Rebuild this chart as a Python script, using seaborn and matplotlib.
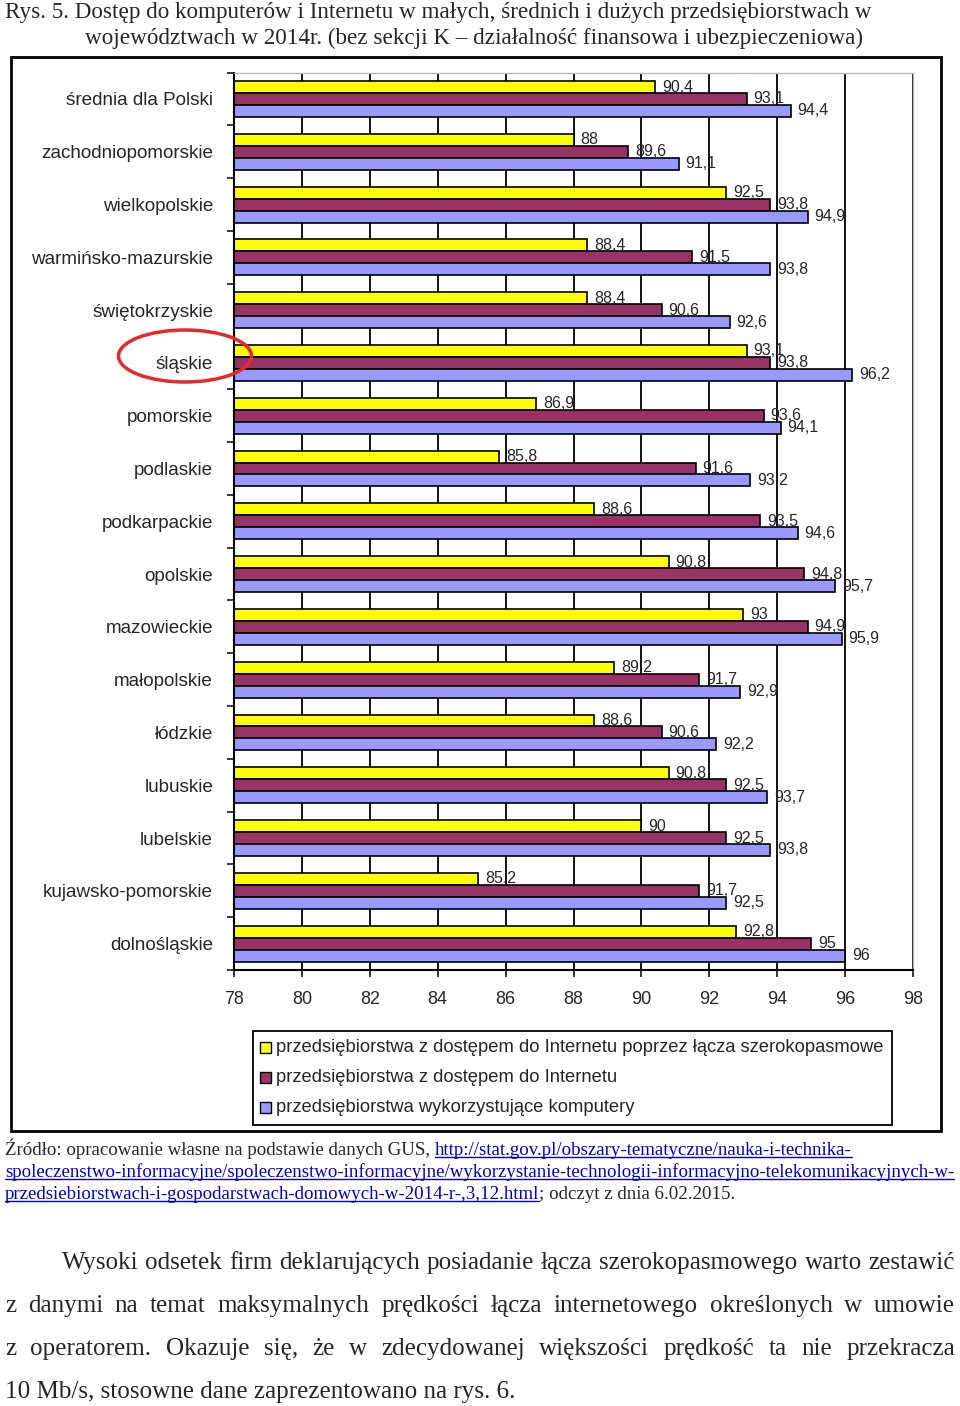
import numpy as np
import pandas as pd
import matplotlib
matplotlib.use("Agg")
import matplotlib.pyplot as plt
import seaborn as sns
from matplotlib.patches import Rectangle, Ellipse
from matplotlib.lines import Line2D

# data (top to bottom)
regions = ["średnia dla Polski", "zachodniopomorskie", "wielkopolskie",
           "warmińsko-mazurskie", "świętokrzyskie", "śląskie", "pomorskie",
           "podlaskie", "podkarpackie", "opolskie", "mazowieckie", "małopolskie",
           "łódzkie", "lubuskie", "lubelskie", "kujawsko-pomorskie", "dolnośląskie"]
broadband = [90.4, 88, 92.5, 88.4, 88.4, 93.1, 86.9, 85.8, 88.6, 90.8, 93, 89.2,
             88.6, 90.8, 90, 85.2, 92.8]
internet = [93.1, 89.6, 93.8, 91.5, 90.6, 93.8, 93.6, 91.6, 93.5, 94.8, 94.9, 91.7,
            90.6, 92.5, 92.5, 91.7, 95]
computers = [94.4, 91.1, 94.9, 93.8, 92.6, 96.2, 94.1, 93.2, 94.6, 95.7, 95.9, 92.9,
             92.2, 93.7, 93.8, 92.5, 96]
series = ["przedsiębiorstwa z dostępem do Internetu poprzez łącza szerokopasmowe",
          "przedsiębiorstwa z dostępem do Internetu",
          "przedsiębiorstwa wykorzystujące komputery"]
colors = ["#FFFF00", "#993366", "#9999FF"]
x_ticks = list(range(78, 100, 2))

title1 = "Rys. 5. Dostęp do komputerów i Internetu w małych, średnich i dużych przedsiębiorstwach w"
title2 = "województwach w 2014r. (bez sekcji K – działalność finansowa i ubezpieczeniowa)"
src_plain1 = "Źródło: opracowanie własne na podstawie danych GUS, "
src_link1 = "http://stat.gov.pl/obszary-tematyczne/nauka-i-technika-"
src_link2 = "spoleczenstwo-informacyjne/spoleczenstwo-informacyjne/wykorzystanie-technologii-informacyjno-telekomunikacyjnych-w-"
src_link3 = "przedsiebiorstwach-i-gospodarstwach-domowych-w-2014-r-,3,12.html"
src_plain3 = "; odczyt z dnia 6.02.2015."
paragraph = ["Wysoki odsetek firm deklarujących posiadanie łącza szerokopasmowego warto zestawić",
             "z danymi na temat maksymalnych prędkości łącza internetowego określonych w umowie",
             "z operatorem. Okazuje się, że w zdecydowanej większości prędkość ta nie przekracza",
             "10 Mb/s, stosowne dane zaprezentowano na rys. 6."]

df = pd.DataFrame({"region": regions * 3,
                   "value": broadband + internet + computers,
                   "series": [series[0]] * 17 + [series[1]] * 17 + [series[2]] * 17})

sns.set_style("white")
plt.rcParams["font.family"] = ["Liberation Sans", "DejaVu Sans"]

W, H = 960, 1406
fig = plt.figure(figsize=(W / 100, H / 100), dpi=100)


def fx(x):
    return x / W


def fy(y):
    return 1 - y / H


ax = fig.add_axes([fx(234), fy(970), fx(913) - fx(234), fy(72.6) - fy(970)])
sns.barplot(data=df, y="region", x="value", hue="series", orient="h",
            palette=colors, edgecolor="black", linewidth=1.2, width=0.68,
            saturation=1, legend=False, ax=ax)
ax.set_xlim(78, 98)
ax.set_xticks(x_ticks)
ax.set_xlabel("")
ax.set_ylabel("")
ax.grid(axis="x", color="black", lw=1.3)
ax.set_axisbelow(True)
for side in ["top", "right"]:
    ax.spines[side].set_color("#bbbbbb")
    ax.spines[side].set_linewidth(1)
for side in ["left", "bottom"]:
    ax.spines[side].set_color("black")
    ax.spines[side].set_linewidth(1.5)
ax.tick_params(axis="x", length=5, width=1.3, pad=10, labelsize=13, direction="out",
               bottom=True)
ax.tick_params(axis="y", which="major", length=0, pad=15, labelsize=13.6)
ax.set_yticks(np.arange(-0.5, 17, 1), minor=True)
ax.tick_params(axis="y", which="minor", length=5, width=1.3, left=True, direction="out")

for cont in ax.containers:
    labels = [f"{b.get_width():g}".replace(".", ",") for b in cont]
    ax.bar_label(cont, labels=labels, padding=5, fontsize=11.5)

# chart frame and legend box
fig.add_artist(Rectangle((fx(11), fy(1131)), fx(941) - fx(11), fy(57) - fy(1131),
                         transform=fig.transFigure, fill=False, ec="black", lw=2))
fig.add_artist(Rectangle((fx(253), fy(1125)), fx(892) - fx(253), fy(1031) - fy(1125),
                         transform=fig.transFigure, fill=False, ec="black", lw=1.3))
for i, (s, c) in enumerate(zip(series, colors)):
    yc = 1047 + 30 * i
    fig.add_artist(Rectangle((fx(260), fy(yc + 5.5)), fx(11), 11 / H,
                             transform=fig.transFigure, fc=c, ec="black", lw=1))
    fig.text(fx(276), fy(yc), s, fontsize=13.2, va="center", ha="left")

# red ellipse around śląskie
fig.add_artist(Ellipse((fx(185), fy(356)), fx(133), 52 / H, transform=fig.transFigure,
                       fill=False, ec="#E32A2A", lw=2.5))

renderer = fig.canvas.get_renderer()
serif = ["Liberation Serif", "DejaVu Serif"]


def width_of(t):
    return t.get_window_extent(renderer).width


def fit(s, x, y, target, size=12, **kw):
    t = fig.text(fx(x), fy(y), s, fontsize=size, family=serif, va="baseline", **kw)
    t.set_fontsize(size * target / width_of(t))
    return t


def underline(t, color):
    bb = t.get_window_extent(renderer)
    x0, y0 = t.get_position()
    yb = y0 - 2 / H
    fig.add_artist(Line2D([bb.x0 / W, bb.x1 / W], [yb, yb], transform=fig.transFigure,
                          color=color, lw=1))


# title
fit(title1, 5, 18, 863)
fit(title2, 85, 44, 777)

# source
link_col = "#0000CC"
t2 = fit(src_link2, 5, 1177, 948, color=link_col)
size_src = t2.get_fontsize()
underline(t2, link_col)
t1a = fig.text(fx(5), fy(1155), src_plain1, fontsize=size_src, family=serif, va="baseline")
w1 = width_of(t1a)
t1b = fig.text(fx(5 + w1), fy(1155), src_link1, fontsize=size_src, family=serif,
               va="baseline", color=link_col)
underline(t1b, link_col)
t3a = fig.text(fx(5), fy(1199), src_link3, fontsize=size_src, family=serif,
               va="baseline", color=link_col)
underline(t3a, link_col)
w3 = width_of(t3a)
fig.text(fx(5 + w3), fy(1199), src_plain3, fontsize=size_src, family=serif, va="baseline")

# paragraph, justified
t_last = fit(paragraph[3], 5, 1398, 511)
size_par = t_last.get_fontsize()
for line, x0, yb in [(paragraph[0], 62, 1269), (paragraph[1], 5, 1312),
                     (paragraph[2], 5, 1355)]:
    words = line.split()
    texts = [fig.text(0, 0, w, fontsize=size_par, family=serif, va="baseline")
             for w in words]
    widths = [width_of(t) for t in texts]
    gap = (955 - x0 - sum(widths)) / (len(words) - 1)
    x = x0
    for t, w in zip(texts, widths):
        t.set_position((fx(x), fy(yb)))
        x += w + gap

fig.savefig("out.png", dpi=100)
